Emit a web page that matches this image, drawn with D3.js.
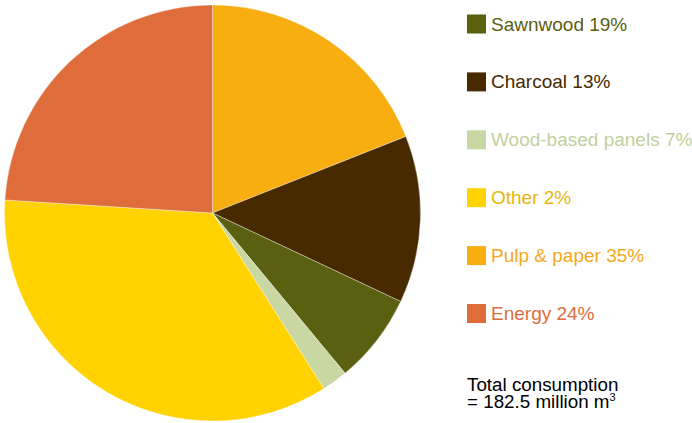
<!DOCTYPE html>
<html>
<head>
<meta charset="utf-8">
<script src="https://cdn.jsdelivr.net/npm/d3@7"></script>
<style>
  html, body { margin: 0; padding: 0; background: #fff; }
  svg { display: block; }
  text { font-family: "Liberation Sans", Arial, Helvetica, sans-serif; }
</style>
</head>
<body>
<svg id="chart" width="692" height="423"></svg>
<script>
// Wood consumption by end use (share of total, %)
const categories = ["Sawnwood", "Charcoal", "Wood-based panels", "Other", "Pulp & paper", "Energy"];
const values = [19, 13, 7, 2, 35, 24];

// Fill of each pie slice, in the same order as the values
const sliceColors = ["#F8AD10", "#472A00", "#5A600F", "#C9D7A2", "#FFD200", "#DF6D3C"];
// Legend swatch and label colours
const legendColors = ["#5A600F", "#472A00", "#C9D7A2", "#FFD200", "#F8AD10", "#DF6D3C"];
const legendTextColors = ["#5A600F", "#472A00", "#C2D09C", "#E9B50A", "#F5A81C", "#DF6D3C"];

const totalLines = ["Total consumption", "= 182.5 million m"];

const svg = d3.select("#chart");

const cx = 212.5, cy = 213, radius = 208;

const pie = d3.pie().sort(null).value(d => d);
const arc = d3.arc().innerRadius(0).outerRadius(radius);

svg.append("g")
  .attr("transform", `translate(${cx},${cy})`)
  .selectAll("path")
  .data(pie(values))
  .join("path")
  .attr("d", arc)
  .attr("fill", (d, i) => sliceColors[i])
  .attr("stroke", "#fff")
  .attr("stroke-width", 0.6)
  .attr("stroke-opacity", 0.6);

// Legend
const legendY = d3.scalePoint()
  .domain(categories)
  .range([24, 313.5]);

const rows = svg.append("g")
  .selectAll("g")
  .data(categories)
  .join("g")
  .attr("transform", d => `translate(467,${legendY(d)})`);

rows.append("rect")
  .attr("x", 0)
  .attr("y", -9.5)
  .attr("width", 19)
  .attr("height", 19)
  .attr("fill", (d, i) => legendColors[i]);

rows.append("text")
  .attr("x", 24)
  .attr("y", 6.5)
  .attr("font-size", 19)
  .attr("fill", (d, i) => legendTextColors[i])
  .text((d, i) => `${d} ${values[i]}%`);

// Total note, one text per line
svg.append("text")
  .attr("x", 467)
  .attr("y", 390.5)
  .attr("font-size", 18.8)
  .attr("fill", "#000")
  .text(totalLines[0]);

const second = svg.append("text")
  .attr("x", 467)
  .attr("y", 408)
  .attr("font-size", 18.8)
  .attr("fill", "#000")
  .text(totalLines[1]);
second.append("tspan")
  .attr("dy", -7.5)
  .attr("font-size", 11)
  .text("3");
</script>
</body>
</html>
